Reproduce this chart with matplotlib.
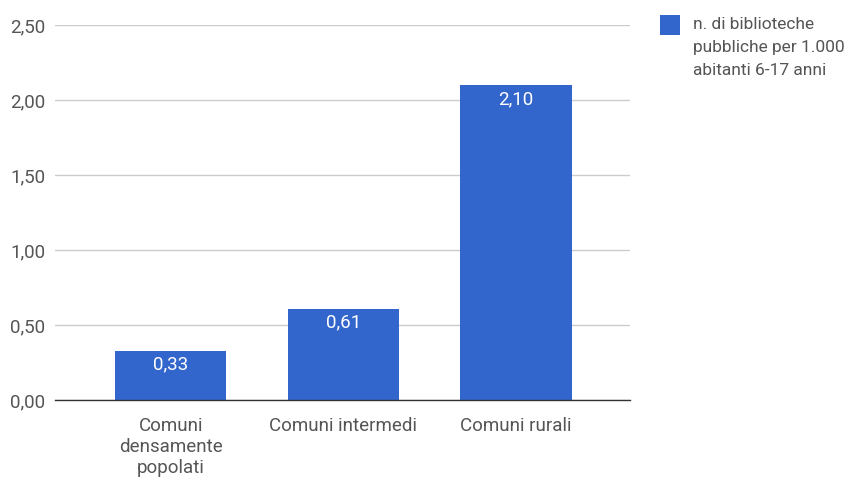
import matplotlib
matplotlib.use("Agg")
import matplotlib.pyplot as plt
from matplotlib.patches import Rectangle

categories = ["Comuni\ndensamente\npopolati", "Comuni intermedi", "Comuni rurali"]
values = [0.33, 0.61, 2.10]
yticks = [0.0, 0.5, 1.0, 1.5, 2.0, 2.5]
series_name = "n. di biblioteche\npubbliche per 1.000\nabitanti 6-17 anni"

plt.rcParams['font.family'] = ['Roboto', 'DejaVu Sans']
color = "#3366cc"
tcol = "#555555"

W, H = 857, 480
fig = plt.figure(figsize=(8.57, 4.8), dpi=100)
ax = fig.add_axes([55/W, 80/H, 575/W, 375/H])

x = list(range(len(categories)))
ax.bar(x, values, width=0.645, color=color, zorder=3)
for xi, v in zip(x, values):
    ax.annotate(f"{v:.2f}".replace(".", ","), (xi, v), xytext=(0, -14),
                textcoords="offset pixels", ha="center", va="center",
                color="white", fontsize=13.5, zorder=4)

ax.set_xlim(-0.67, 2.66)
ax.set_ylim(0, 2.5)
ax.set_yticks(yticks)
ax.set_yticklabels([f"{t:.2f}".replace(".", ",") for t in yticks])
ax.set_xticks(x)
ax.set_xticklabels(categories, linespacing=1.22)
ax.tick_params(axis="both", length=0, colors=tcol, labelsize=13.5)
ax.tick_params(axis="y", pad=7)
ax.tick_params(axis="x", pad=12)
ax.grid(axis="y", color="#cccccc", linewidth=1, zorder=0)
for s in ["top", "right", "left"]:
    ax.spines[s].set_visible(False)
ax.spines["bottom"].set_color("#333333")
ax.spines["bottom"].set_linewidth(1)
ax.spines["bottom"].set_zorder(5)

# legend
fig.patches.append(Rectangle((660/W, 1 - 35/H), 20/W, 20/H, transform=fig.transFigure,
                             facecolor=color, edgecolor="none"))
fig.text(693/W, 1 - 17/H, series_name, ha="left", va="top", fontsize=12.5,
         color=tcol, linespacing=1.68)

fig.savefig("out.png", dpi=100)
